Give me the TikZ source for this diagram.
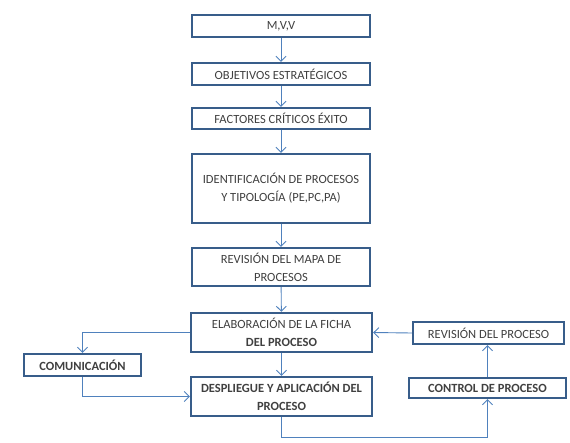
\documentclass[tikz,border=0pt]{standalone}
\usepackage{fontspec}
\setmainfont{Carlito}
\usetikzlibrary{arrows.meta}
\definecolor{boxline}{RGB}{56,93,138}
\definecolor{flow}{RGB}{79,129,189}
\definecolor{ink}{RGB}{64,64,64}
\tikzset{
  stage/.style={draw=boxline, line width=2.4pt, fill=white, rectangle,
    inner sep=2pt, align=center, text=ink, font=\fontsize{12.5}{18}\selectfont},
  boldstage/.style={stage, font=\bfseries\fontsize{12.5}{18}\selectfont},
  flowline/.style={draw=flow, line width=0.9pt, -{Straight Barb[length=5pt,width=10pt]}},
}
\begin{document}
\begin{tikzpicture}[x=1pt,y=-1pt]
\useasboundingbox (0,0) rectangle (570,442);
% main column
\node[stage, minimum width=178pt, minimum height=22pt] (mvv) at (281,26) {M,V,V};
\node[stage, minimum width=178pt, minimum height=22pt] (obj) at (281,74) {OBJETIVOS ESTRATÉGICOS};
\node[stage, minimum width=178pt, minimum height=21pt] (fac) at (281,118.5) {FACTORES CRÍTICOS ÉXITO};
\node[stage, minimum width=178pt, minimum height=69pt] (ident) at (281,188.5) {IDENTIFICACIÓN DE PROCESOS\\Y TIPOLOGÍA (PE,PC,PA)};
\node[stage, minimum width=178pt, minimum height=38pt] (rmap) at (281,267) {REVISIÓN DEL MAPA DE\\PROCESOS};
\node[stage, minimum width=181pt, minimum height=39pt] (elab) at (281.5,332.5) {ELABORACIÓN DE LA FICHA\\\textbf{DEL PROCESO}};
\node[boldstage, minimum width=181pt, minimum height=39pt] (desp) at (281.5,396.5) {DESPLIEGUE Y APLICACIÓN DEL\\PROCESO};
% side boxes
\node[boldstage, minimum width=117pt, minimum height=22pt] (com) at (82.5,365) {COMUNICACIÓN};
\node[stage, minimum width=151pt, minimum height=22pt] (rproc) at (488.5,333) {REVISIÓN DEL PROCESO};
\node[boldstage, minimum width=157pt, minimum height=20pt] (ctrl) at (487.5,388) {CONTROL DE PROCESO};
% connectors
\draw[flowline] (mvv) -- (obj);
\draw[flowline] (obj) -- (fac);
\draw[flowline] (fac) -- (ident);
\draw[flowline] (ident) -- (rmap);
\draw[flowline] (rmap) -- (elab);
\draw[flowline] (elab) -- (desp);
\draw[flowline] (elab.west) -| (com.north);
\draw[flowline] (com.south) |- (desp.west);
\coordinate (low) at (281.5,437);
\draw[flowline] (desp.south) -- (low) -| (ctrl.south);
\draw[flowline] (ctrl) -- (ctrl |- rproc.south);
\draw[flowline] (rproc.west) -- (elab.east);
\end{tikzpicture}
\end{document}
